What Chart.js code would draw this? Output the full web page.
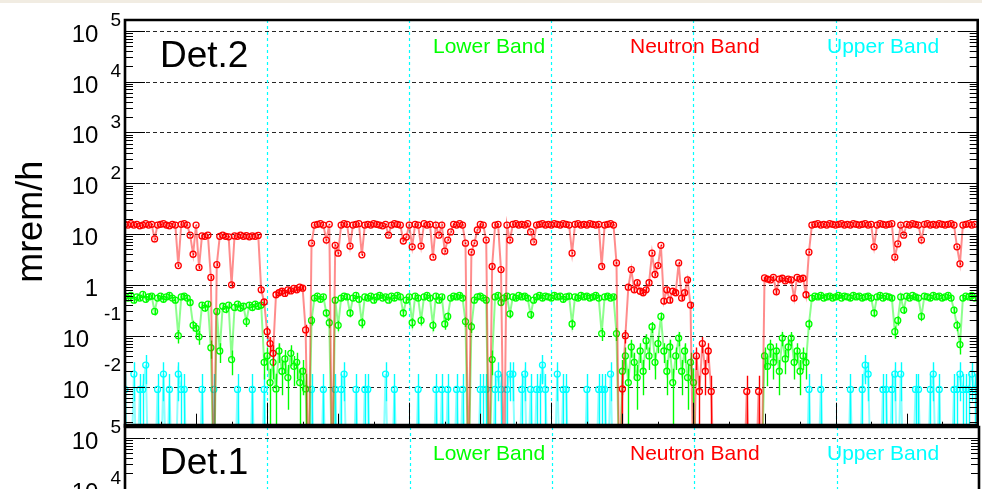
<!DOCTYPE html>
<html>
<head>
<meta charset="utf-8">
<script src="https://cdn.jsdelivr.net/npm/chart.js@4/dist/chart.umd.min.js"></script>
<style>
  html, body { margin: 0; padding: 0; background: #fff; overflow: hidden; width: 982px; height: 489px; }
  #strip { position: absolute; left: 0; top: 0; width: 982px; height: 3px; background: #f1ece2; }
  #det2 { position: absolute; left: 0; top: 0; }
  #det1 { position: absolute; left: 0; top: 407px; }
</style>
</head>
<body>
<canvas id="det2" width="982" height="430"></canvas>
<canvas id="det1" width="982" height="430"></canvas>
<div id="strip"></div>
<script>
// Dose-rate monitor, three energy bands, one reading every 30 minutes over six days.
const SAMPLE_STEP_H = 0.5;
const SPAN_H = 144;
const dayMarks = [24, 48, 72, 96, 120];
const decadeExps = [-2, -1, 0, 1, 2, 3, 4, 5];
const yTickLabels = [['10', '-2'], ['10', '-1'], ['1', ''], ['10', ''], ['10', '2'], ['10', '3'], ['10', '4'], ['10', '5']];
const bandNames = ['Lower Band', 'Neutron Band', 'Upper Band'];
const bandColors = ['#00ff00', '#ff0000', '#00ffff'];
const bandLineColors = ['rgba(0,255,0,0.45)', 'rgba(255,0,0,0.45)', 'rgba(0,255,255,0.45)'];

// Det.2, neutron band (mrem/h), 48 readings per day
const neutronBand = [
  15.5,15,16,15,15.5,14.5,15,16,15,15.5, 8,15,15.5,16,15,14.5,15.5,15,2.4,15.5, 16,15,9.5,4,15,2.2,9.2,9,9.5,1.4, 0,2.5,9,9.5,9,8.8,1.0,9.2,9,9.5, 9,9.3,8.8,9.2,9,9.4,0.8,0.46,
  0.12,0.07,0.045,0.64,0.7,0.75,0.68,0.8,0.76,0.85, 0.8,0.9,0.86,0.13,0,6.6,15,15.5,16,15, 7.6,15.5,0,6,4.2,15,16,15.5,5.8,15, 15.5,16,3.9,15,15.5,15,16,15.5,15,14.5, 15.5,9.5,15,16,15.5,15,7.3,8.7,
  15,5.6,15.5,15,5.8,16,15,15.5,3.5,15, 9.5,15,4.6,7.6,11,15.5,15,16,15,6.6, 0,4.4,6.6,12,15.5,15,7.6,0,2.3,15, 15.5,2.0,0,15,7.6,15.5,16,15,15.5,15, 16,11,7,15,15.5,16,15,15.5,
  15,16,15.5,15,16,15.5,15,4.2,15.5,16, 15,15.5,15,16,15.5,15,15.5,2.3,15,15.5, 16,15,2.7,0,0.009,0.1,0.9,2.0,0.8,1.1, 0.75,0.7,0.8,1.1,4.2,1.6,2.4,6,0.48,0.8, 0.5,0.75,0.7,2.7,0.55,0.7,1.25,0.4,
  0,0.04,0.008,0.07,0.02,0.05,0.008,0,0,0, 0,0,0,0,0,0,0,0,0.008,0, 0,0,0.008,0,1.37,1.3,1.25,1.4,0.73,1.3, 1.35,1.2,1.3,1.25,0.55,1.4,1.3,1.35,0.64,4.4, 15,15.5,16,15,15.5,15,16,15.5,
  15,15.5,16,15,15.5,15,16,15.5,15,15.5, 16,15,15.5,5.6,15,16,15.5,15,15.5,16, 3.5,6.4,15,9.5,15.5,15,16,15.5,15,7.6, 15.5,16,15,15.5,15,16,15.5,15,15.5,16, 15,5.6,2.6,15,15.5,16,15,15.5
];

// Det.2, lower band (mrem/h)
const lowerBand = [
  0.6,0.55,0.62,0.5,0.58,0.55,0.65,0.52,0.58,0.6, 0.3,0.55,0.6,0.52,0.58,0.62,0.55,0.5,0.1,0.58, 0.6,0.55,0.45,0.16,0.14,0.095,0.4,0.35,0.42,0.058, 0,0.3,0.05,0.38,0.33,0.4,0.034,0.36,0.42,0.35, 0.38,0.19,0.4,0.36,0.42,0.38,0.4,0.03,
  0.04,0.012,0.03,0.009,0.05,0.02,0.035,0.015,0.045,0.025, 0.03,0.012,0.02,0.009,0,0.2,0.55,0.6,0.52,0.58, 0.28,0.18,0,0.5,0.16,0.55,0.6,0.58,0.28,0.55, 0.62,0.52,0.18,0.58,0.55,0.6,0.5,0.58,0.62,0.55, 0.58,0.5,0.6,0.55,0.62,0.58,0.28,0.5,
  0.58,0.18,0.6,0.55,0.2,0.58,0.62,0.55,0.16,0.6, 0.5,0.58,0.17,0.24,0.55,0.6,0.58,0.62,0.55,0.19, 0,0.15,0.5,0.58,0.6,0.55,0.5,0,0.034,0.58, 0.62,0.45,0.55,0.6,0.27,0.58,0.55,0.62,0.58,0.6, 0.55,0.26,0.5,0.58,0.62,0.55,0.6,0.58,
  0.55,0.62,0.58,0.6,0.52,0.58,0.6,0.17,0.58,0.55, 0.62,0.58,0.6,0.55,0.58,0.62,0.55,0.11,0.58,0.6, 0.55,0.58,0.11,0,0.02,0.04,0.012,0.06,0.03,0.015, 0.05,0.02,0.08,0.04,0.15,0.03,0.07,0.24,0.05,0.02, 0.06,0.012,0.04,0.09,0.02,0.05,0.015,0.03,
  0.012,0,0,0,0,0,0,0,0,0, 0,0,0,0,0,0,0,0,0,0, 0,0,0,0,0.04,0.025,0.06,0.03,0.05,0.02, 0.09,0.035,0.06,0.09,0.03,0.05,0.02,0.04,0.03,0.17, 0.55,0.6,0.58,0.62,0.55,0.58,0.6,0.55,
  0.58,0.62,0.55,0.6,0.58,0.55,0.62,0.58,0.6,0.55, 0.58,0.6,0.55,0.28,0.58,0.62,0.55,0.6,0.58,0.55, 0.12,0.2,0.58,0.32,0.6,0.55,0.62,0.58,0.55,0.24, 0.6,0.58,0.55,0.62,0.58,0.6,0.55,0.58,0.62,0.55, 0.32,0.16,0.067,0.55,0.6,0.58,0.62,0.55
];

// Det.2, upper band (mrem/h)
const upperBand = [
  .0088,0,0,.0176,0,.0088,.0088,.0264,0,0, 0,.0088,0,.0176,0,.0088,0,0,.0176,.0088, .0088,0,0,0,0,0,.0088,0,0,0, .0088,0,0,0,0,0,0,0,.0088,0, 0,0,0,.0088,0,0,0,.0088,
  0,0,0,0,0,0,0,0,0,0, 0,0,0,0,0,.0088,0,0,0,.0088, 0,0,0,.0088,0,.0088,.0176,0,0,0, .0088,0,0,.0088,.0088,0,0,0,0,0, .0176,0,0,.0088,0,0,0,0,
  0,0,0,.0088,0,0,0,0,0,.0088, 0,.0088,0,.0088,0,0,.0088,0,.0088,0, 0,0,0,0,.0088,.0088,.0088,0,0,.0088, .0176,.0088,0,.0088,.0176,.0176,0,0,.0088,.0176, 0,.0088,0,.0088,.0088,.0264,.0088,0,
  0,0,.0176,0,.0088,.0088,0,0,0,0, 0,0,.0088,0,0,0,.0088,.0088,.0088,0, .0176,0,0,0,0,0,0,0,0,0, 0,0,0,0,0,0,0,0,0,0, 0,0,0,0,0,0,0,0,
  0,0,0,0,0,0,0,0,0,0, 0,0,0,0,0,0,0,0,0,0, 0,0,0,0,0,0,0,0,0,0, 0,0,0,0,0,0,0,0,0,.0088, 0,0,0,.0088,0,0,0,0,
  0,0,0,0,0,.0088,0,0,0,.0088, .0264,.0176,0,0,0,0,.0088,.0088,0,.0088, .0176,0,.0176,0,0,0,0,.0088,.0088,0, 0,0,.0088,.0176,0,.0088,0,0,0,0, .0088,.0088,.0176,.0088,.0088,.0088,.0176,.0088
];

const COUNT_UNIT = 0.0088;            // dose rate carried by one count, sets the Poisson error bars
const Y_MIN = Math.pow(10, -2.77);
const Y_MAX = Math.pow(10, 5.21);
const BELOW_AXIS = 1e-4;              // empty readings are drawn down through the bottom edge
const FONT = '"Liberation Sans", Arial, Helvetica, sans-serif';

function toPoints(values) {
  return values.map((v, i) => ({ x: i * SAMPLE_STEP_H, y: v > 0 ? v : BELOW_AXIS, dose: v }));
}

function bandDataset(k, values, order) {
  return {
    label: bandNames[k],
    data: toPoints(values),
    order,
    borderColor: bandLineColors[k],
    borderWidth: 2,
    tension: 0,
    pointRadius: c => (c.raw && c.raw.dose > 0 ? 3 : 0),
    pointHoverRadius: 0,
    pointBorderColor: bandColors[k],
    pointBackgroundColor: 'rgba(0,0,0,0)',
    pointBorderWidth: 1.3,
    errColor: bandColors[k]
  };
}

// dashed decade lines and cyan day separators, under the data
const panelGrid = {
  id: 'panelGrid',
  beforeDatasetsDraw(chart) {
    const { ctx, chartArea: a, scales: { x, y } } = chart;
    ctx.save();
    ctx.lineWidth = 1;
    ctx.strokeStyle = 'rgba(0,0,0,0.85)';
    ctx.setLineDash([4, 3]);
    decadeExps.forEach(e => {
      const py = Math.round(y.getPixelForValue(Math.pow(10, e))) + 0.5;
      if (py <= a.top + 1 || py >= a.bottom - 1) return;
      ctx.beginPath(); ctx.moveTo(a.left, py); ctx.lineTo(a.right, py); ctx.stroke();
    });
    ctx.strokeStyle = '#00ffff';
    ctx.lineWidth = 1.2;
    ctx.setLineDash([3, 3]);
    dayMarks.forEach(h => {
      const px = Math.round(x.getPixelForValue(h)) + 0.5;
      ctx.beginPath(); ctx.moveTo(px, a.top); ctx.lineTo(px, a.bottom); ctx.stroke();
    });
    ctx.restore();
  }
};

// vertical error bars, drawn with each band
const errorBars = {
  id: 'errorBars',
  afterDatasetDraw(chart, args) {
    const ds = chart.data.datasets[args.index];
    if (!ds.errColor) return;
    const { ctx, chartArea: a } = chart;
    const y = chart.scales.y;
    ctx.save();
    ctx.beginPath(); ctx.rect(a.left, a.top, a.right - a.left, a.bottom - a.top); ctx.clip();
    ctx.strokeStyle = ds.errColor;
    ctx.lineWidth = 1.4;
    ctx.beginPath();
    args.meta.data.forEach((pt, i) => {
      const v = ds.data[i].dose;
      if (!(v > 0)) return;
      const e = Math.sqrt(v * COUNT_UNIT);
      const top = y.getPixelForValue(v + e);
      const bot = v - e > Y_MIN ? y.getPixelForValue(v - e) : a.bottom;
      const px = Math.round(pt.x) + 0.5;
      ctx.moveTo(px, top); ctx.lineTo(px, bot);
    });
    ctx.stroke();
    ctx.restore();
  }
};

// frame, tick marks, tick labels and panel texts
const panelFrame = {
  id: 'panelFrame',
  afterDraw(chart, args, opts) {
    const { ctx, chartArea: a, scales: { x, y } } = chart;
    ctx.save();
    ctx.strokeStyle = '#000';
    ctx.lineWidth = 1;
    ctx.beginPath();
    for (let e = -3; e <= 5; e++) {
      for (let m = 1; m <= 9; m++) {
        const v = m * Math.pow(10, e);
        if (v < Y_MIN || v > Y_MAX) continue;
        const py = Math.round(y.getPixelForValue(v)) + 0.5;
        const len = m === 1 ? 20 : 8;
        ctx.moveTo(a.left, py); ctx.lineTo(a.left + len, py);
        ctx.moveTo(a.right - len, py); ctx.lineTo(a.right, py);
      }
    }
    for (let q = 1; q < SPAN_H / 6; q++) {
      const px = Math.round(x.getPixelForValue(q * 6)) + 0.5;
      const len = q % 4 === 0 ? 23 : (q % 2 === 0 ? 12 : 4);
      ctx.moveTo(px, a.bottom); ctx.lineTo(px, a.bottom - len);
    }
    ctx.stroke();

    ctx.lineWidth = 2.6;
    ctx.beginPath();
    ctx.moveTo(a.left, a.bottom); ctx.lineTo(a.left, a.top); ctx.lineTo(a.right, a.top); ctx.lineTo(a.right, a.bottom);
    ctx.stroke();
    ctx.lineWidth = 4;
    ctx.beginPath(); ctx.moveTo(a.left - 1.3, a.bottom); ctx.lineTo(a.right + 1.3, a.bottom); ctx.stroke();

    ctx.fillStyle = '#000';
    ctx.textBaseline = 'alphabetic';
    decadeExps.forEach((e, k) => {
      const py = y.getPixelForValue(Math.pow(10, e));
      const [base, exp] = yTickLabels[k];
      let baseRight = a.left - 27;
      if (exp) {
        ctx.font = '19px ' + FONT;
        ctx.textAlign = 'right';
        ctx.fillText(exp, a.left - 4, e < 0 ? py - 15.5 : py - 4.5);
        baseRight = a.left - 4 - ctx.measureText(exp).width - (e < 0 ? 15 : 12);
      }
      ctx.font = '24px ' + FONT;
      ctx.textAlign = 'right';
      ctx.fillText(base, baseRight, py + 11);
    });

    ctx.textAlign = 'left';
    ctx.font = '37px ' + FONT;
    ctx.fillText(opts.title, a.left + 35, a.top + 47);
    const legendOffsets = [308, 505, 702];
    ctx.font = '21px ' + FONT;
    bandNames.forEach((name, k) => {
      ctx.fillStyle = bandColors[k];
      ctx.fillText(name, a.left + legendOffsets[k], a.top + 33);
    });

    if (opts.axisTitle) {
      ctx.fillStyle = '#000';
      ctx.font = '36px ' + FONT;
      ctx.textAlign = 'center';
      ctx.translate(42, (a.top + a.bottom) / 2 - 1);
      ctx.rotate(-Math.PI / 2);
      ctx.fillText(opts.axisTitle, 0, 0);
    }
    ctx.restore();
  }
};

function panelOptions(title, axisTitle) {
  return {
    responsive: false,
    animation: false,
    devicePixelRatio: 1,
    events: [],
    layout: { padding: { left: 125, right: 3, top: 20, bottom: 3 } },
    scales: {
      x: { type: 'linear', min: 0, max: SPAN_H, display: false },
      y: { type: 'logarithmic', min: Y_MIN, max: Y_MAX, display: false }
    },
    plugins: {
      legend: { display: false },
      tooltip: { enabled: false },
      panelFrame: { title, axisTitle }
    }
  };
}

new Chart(document.getElementById('det2'), {
  type: 'line',
  data: {
    datasets: [
      bandDataset(1, neutronBand, 1),
      bandDataset(0, lowerBand, 2),
      bandDataset(2, upperBand, 3)
    ]
  },
  options: panelOptions('Det.2', 'mrem/h'),
  plugins: [panelGrid, errorBars, panelFrame]
});

new Chart(document.getElementById('det1'), {
  type: 'line',
  data: { datasets: [] },
  options: panelOptions('Det.1', ''),
  plugins: [panelGrid, errorBars, panelFrame]
});
</script>
</body>
</html>
